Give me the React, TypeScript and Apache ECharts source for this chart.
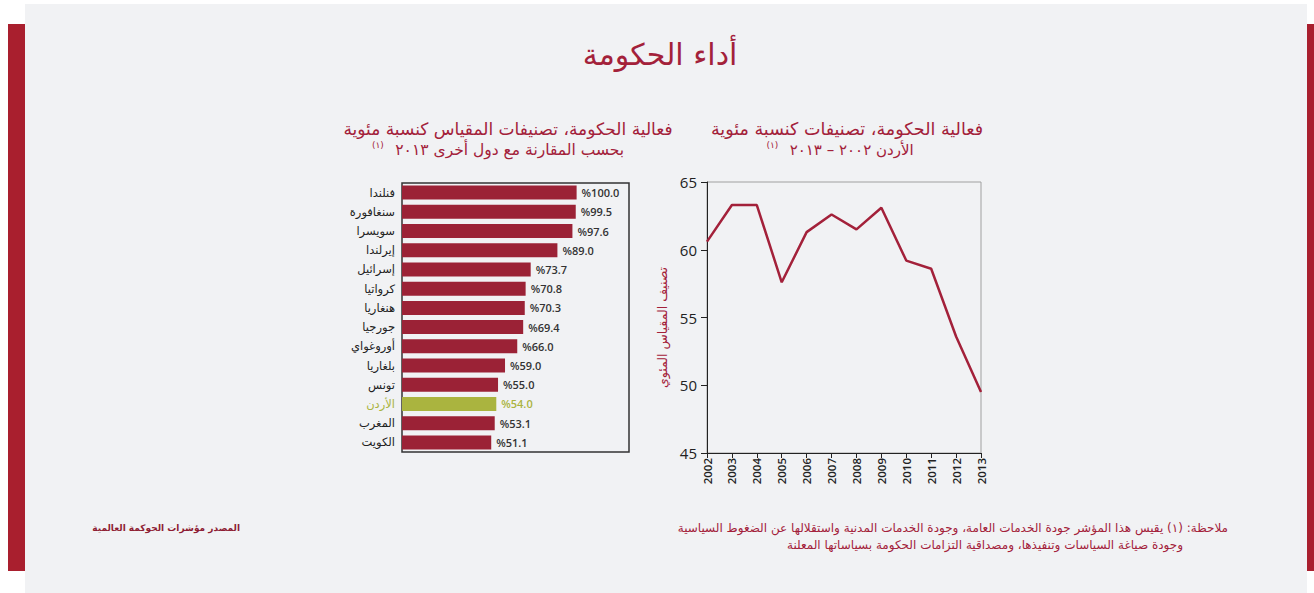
import { useEffect, useRef } from 'react';
import * as echarts from 'echarts';

const mainTitle = 'أداء الحكومة';
const barTitle1 = 'فعالية الحكومة، تصنيفات المقياس كنسبة مئوية';
const barTitle2 = 'بحسب المقارنة مع دول أخرى ٢٠١٣';
const lineTitle1 = 'فعالية الحكومة، تصنيفات كنسبة مئوية';
const lineTitle2 = 'الأردن ٢٠٠٢ – ٢٠١٣';
const noteMark = '(١)';
const yAxisName = 'تصنيف المقياس المئوي';
const footNote1 = 'ملاحظة: (١) يقيس هذا المؤشر جودة الخدمات العامة، وجودة الخدمات المدنية واستقلالها عن الضغوط السياسية';
const footNote2 = 'وجودة صياغة السياسات وتنفيذها، ومصداقية التزامات الحكومة بسياساتها المعلنة';
const sourceText = 'المصدر مؤشرات الحوكمة العالمية';

const countries = ['فنلندا', 'سنغافورة', 'سويسرا', 'إيرلندا', 'إسرائيل', 'كرواتيا', 'هنغاريا', 'جورجيا', 'أوروغواي', 'بلغاريا', 'تونس', 'الأردن', 'المغرب', 'الكويت'];
const countryValues = [100.0, 99.5, 97.6, 89.0, 73.7, 70.8, 70.3, 69.4, 66.0, 59.0, 55.0, 54.0, 53.1, 51.1];
const highlightCountry = 'الأردن';

const years = ['2002', '2003', '2004', '2005', '2006', '2007', '2008', '2009', '2010', '2011', '2012', '2013'];
const jordanValues = [60.6, 63.3, 63.3, 57.6, 61.3, 62.6, 61.5, 63.1, 59.2, 58.6, 53.6, 49.5];

const RED = '#a3213a';
const BAR = '#9b2236';
const OLIVE = '#aab43f';
const ARABIC = '"DejaVu Sans", sans-serif';
const LATIN = '"Open Sans", "DejaVu Sans", sans-serif';

export default function App() {
  const ref = useRef<HTMLDivElement>(null);
  useEffect(() => {
    const chart = echarts.init(ref.current!, null, { renderer: 'svg' });
    chart.setOption({
      animation: false,
      backgroundColor: '#ffffff',
      graphic: [
        { type: 'rect', z: -10, silent: true, shape: { x: 25, y: 4, width: 1282, height: 589 }, style: { fill: '#f1f2f4' } },
        { type: 'rect', z: -10, silent: true, shape: { x: 8, y: 24, width: 17, height: 547 }, style: { fill: '#a91f2e' } },
        { type: 'rect', z: -10, silent: true, shape: { x: 1307, y: 24, width: 7, height: 547 }, style: { fill: '#a91f2e' } },
        { type: 'text', x: 660, y: 54, style: { text: mainTitle, fill: RED, fontSize: 30, fontFamily: ARABIC, align: 'center', verticalAlign: 'middle' } },
        { type: 'text', x: 508, y: 129, style: { text: barTitle1, fill: RED, fontSize: 17, fontFamily: ARABIC, align: 'center', verticalAlign: 'middle' } },
        {
          type: 'text', x: 498, y: 150,
          style: {
            text: `{s|${noteMark}}   {t|${barTitle2}}`,
            align: 'center', verticalAlign: 'middle', fill: RED, fontFamily: ARABIC,
            rich: {
              s: { fontSize: 9, fill: RED, fontFamily: ARABIC, verticalAlign: 'top', lineHeight: 20 },
              t: { fontSize: 15.5, fill: RED, fontFamily: ARABIC, lineHeight: 20 },
            },
          },
        },
        { type: 'text', x: 847, y: 129, style: { text: lineTitle1, fill: RED, fontSize: 17.5, fontFamily: ARABIC, align: 'center', verticalAlign: 'middle' } },
        {
          type: 'text', x: 840, y: 150,
          style: {
            text: `{s|${noteMark}}   {t|${lineTitle2}}`,
            align: 'center', verticalAlign: 'middle', fill: RED, fontFamily: ARABIC,
            rich: {
              s: { fontSize: 9, fill: RED, fontFamily: ARABIC, verticalAlign: 'top', lineHeight: 20 },
              t: { fontSize: 15, fill: RED, fontFamily: ARABIC, lineHeight: 20 },
            },
          },
        },
        { type: 'text', x: 1228, y: 528, style: { text: footNote1, fill: RED, fontSize: 12, fontFamily: ARABIC, align: 'right', verticalAlign: 'middle' } },
        { type: 'text', x: 1183, y: 545, style: { text: footNote2, fill: RED, fontSize: 12, fontFamily: ARABIC, align: 'right', verticalAlign: 'middle' } },
        { type: 'text', x: 240, y: 528, style: { text: sourceText, fill: '#8e1d33', fontSize: 9, fontWeight: 'bold', fontFamily: ARABIC, align: 'right', verticalAlign: 'middle' } },
      ],
      grid: [
        { left: 402, top: 183, width: 227, height: 269, show: true, borderColor: '#333', borderWidth: 1.5, backgroundColor: 'transparent', containLabel: false },
        { left: 707, top: 182, width: 274, height: 271, show: true, borderColor: '#a0a0a0', borderWidth: 1, backgroundColor: 'transparent', containLabel: false },
      ],
      xAxis: [
        { type: 'value', gridIndex: 0, min: 0, max: 130, show: false, splitLine: { show: false } },
        {
          type: 'category', gridIndex: 1, data: years, boundaryGap: false,
          axisLine: { show: true, lineStyle: { color: '#222', width: 1 } },
          axisTick: { show: true, length: 5, lineStyle: { color: '#222' } },
          axisLabel: { rotate: 90, fontSize: 11.5, color: '#222', margin: 5, fontFamily: LATIN, fontWeight: 600 },
          splitLine: { show: false },
        },
      ],
      yAxis: [
        {
          type: 'category', gridIndex: 0, data: countries, inverse: true,
          axisLine: { show: false }, axisTick: { show: false },
          axisLabel: {
            fontSize: 11.5, fontFamily: ARABIC, margin: 7,
            color: (v: string) => (v === highlightCountry ? OLIVE : '#222'),
          },
        },
        {
          type: 'value', gridIndex: 1, min: 45, max: 65, interval: 5,
          axisLine: { show: true, lineStyle: { color: '#222', width: 1 } },
          axisTick: { show: true, length: 6, lineStyle: { color: '#222' } },
          splitLine: { show: false },
          axisLabel: { fontSize: 15, color: '#222', margin: 10, fontFamily: LATIN, fontWeight: 500 },
          name: yAxisName, nameLocation: 'middle', nameRotate: 90, nameGap: 38,
          nameTextStyle: { color: RED, fontSize: 12.5, fontFamily: ARABIC, padding: [0, 20, 0, 0] },
        },
      ],
      series: [
        {
          type: 'bar', xAxisIndex: 0, yAxisIndex: 0, barWidth: 14,
          data: countryValues.map((v, i) => ({
            value: v,
            itemStyle: { color: countries[i] === highlightCountry ? OLIVE : BAR },
            label: { color: countries[i] === highlightCountry ? OLIVE : '#333' },
          })),
          label: {
            show: true, position: 'right', distance: 5, fontSize: 11, fontWeight: 600, fontFamily: LATIN,
            formatter: (p: any) => '%' + Number(p.value).toFixed(1),
          },
        },
        {
          type: 'line', xAxisIndex: 1, yAxisIndex: 1, data: jordanValues,
          showSymbol: false, symbol: 'none',
          lineStyle: { color: RED, width: 2.5 },
        },
      ],
    });
    return () => chart.dispose();
  }, []);
  return <div ref={ref} style={{ position: 'fixed', left: 0, top: 0, width: 1314, height: 593 }} />;
}
